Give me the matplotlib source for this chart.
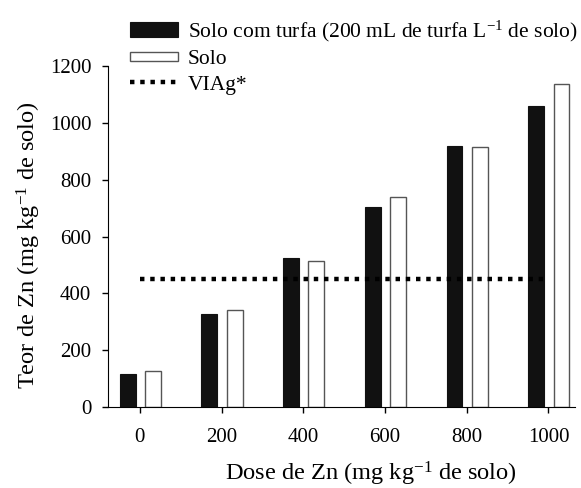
import matplotlib
matplotlib.use("Agg")
import matplotlib.pyplot as plt
from matplotlib.legend_handler import HandlerPatch
from matplotlib.patches import Rectangle
import numpy as np

# dados
doses = [0, 200, 400, 600, 800, 1000]
solo_turfa = [116, 328, 524, 704, 919, 1058]
solo = [128, 340, 515, 739, 915, 1135]
viag = 450

plt.rcParams['font.family'] = ['Liberation Serif', 'DejaVu Serif']
plt.rcParams['mathtext.fontset'] = 'custom'
plt.rcParams['mathtext.rm'] = 'Liberation Serif'
plt.rcParams['mathtext.default'] = 'regular'


def caixa(alt):
    # retângulo da legenda com altura relativa
    def f(legend, orig_handle, xdescent, ydescent, width, height, fontsize):
        h = height * alt
        return Rectangle((-xdescent, -ydescent + (height - h) / 2), width, h)
    return HandlerPatch(patch_func=f)


fig = plt.figure(figsize=(5.81, 4.88), dpi=100)
ax = fig.add_axes([108 / 581, (488 - 407) / 488, (575 - 108) / 581, (407 - 66) / 488])

x = np.array(doses)
b1 = ax.bar(x - 30, solo_turfa, width=39, color='#111111', edgecolor='#111111', linewidth=0.8)
b2 = ax.bar(x + 32, solo, width=39, color='white', edgecolor='#555555', linewidth=1.0)
ln, = ax.plot([0, 990], [viag, viag], color='black', linestyle=(0, (1, 1.3)), linewidth=3.2)

ax.set_xlim(-78, 1065)
ax.set_ylim(0, 1200)
ax.set_xticks(doses)
ax.set_yticks(range(0, 1201, 200))
ax.spines['top'].set_visible(False)
ax.spines['right'].set_visible(False)
ax.tick_params(direction='out', labelsize=15, length=4, width=1)
ax.tick_params(axis='x', pad=11)
ax.tick_params(axis='y', pad=8)

ax.set_xlabel('Dose de Zn (mg kg$^{-1}$ de solo)', fontsize=17.6)
ax.xaxis.set_label_coords(0.563, -0.155)
ax.set_ylabel('Teor de Zn (mg kg$^{-1}$ de solo)', fontsize=17.6)
ax.yaxis.set_label_coords(-0.14, 0.475)

h1, h2 = b1.patches[0], b2.patches[0]
fig.legend([h1, h2, ln],
           ['Solo com turfa (200 mL de turfa L$^{-1}$ de solo)', 'Solo', 'VIAg*'],
           loc='upper left', bbox_to_anchor=(121 / 581, 1 - 10 / 488),
           frameon=False, fontsize=15.5, handlelength=2.25, handletextpad=0.45, labelspacing=0.25,
           borderaxespad=0, handler_map={h1: caixa(1.0), h2: caixa(0.6)})

fig.savefig('out.png', dpi=100)
